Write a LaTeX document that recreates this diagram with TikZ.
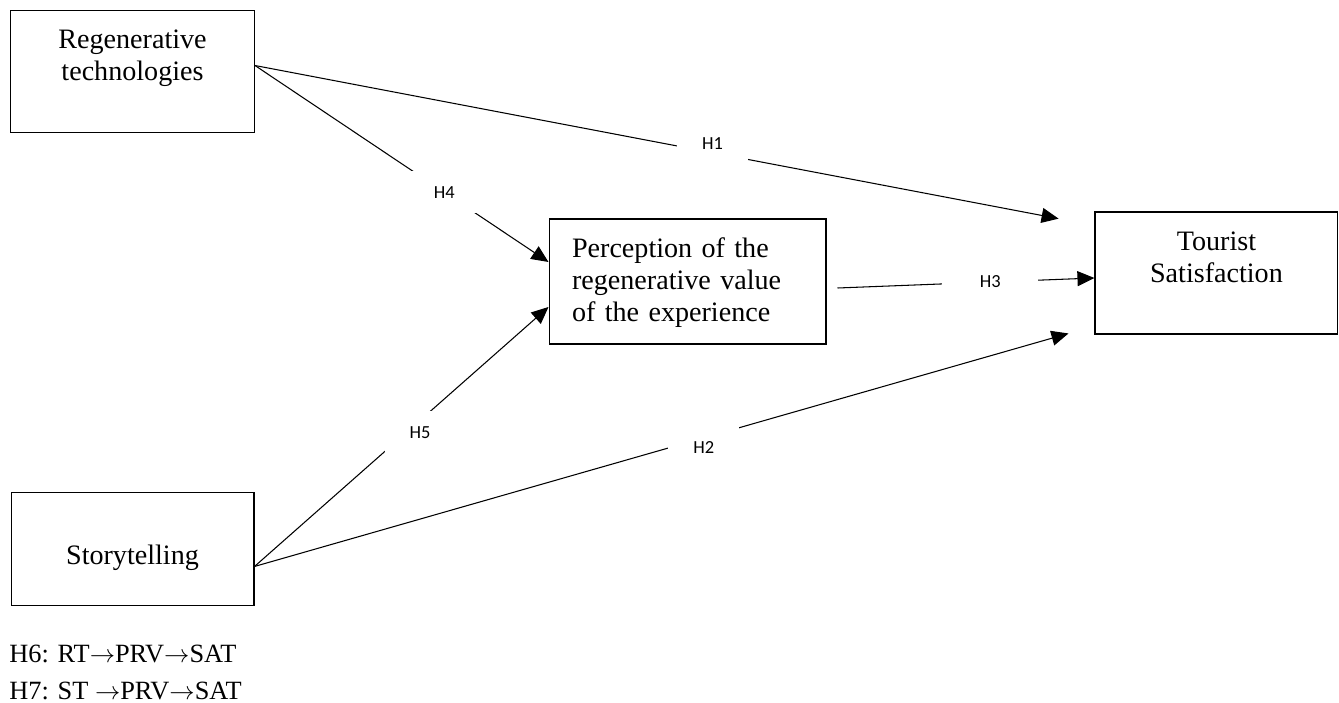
\documentclass[tikz,border=0pt]{standalone}
\usepackage{fontspec}
\setmainfont{Liberation Serif}
\newfontfamily\hypfont{Carlito}
\usetikzlibrary{arrows.meta, positioning}
\newcommand{\toarr}{\ensuremath{\rightarrow}}
\tikzset{
  varbox/.style = {draw, line width=0.6pt, inner sep=0pt, align=center,
                   font=\fontsize{16}{18.3}\selectfont},
  hyp/.style    = {fill=white, inner xsep=0.5cm, inner ysep=0.3cm,
                   font=\hypfont\fontsize{10.5}{12}\selectfont},
  arr/.style    = {-{Triangle[length=0.34cm, width=0.3cm]}, line width=0.6pt},
  note/.style   = {inner sep=0pt, anchor=base west,
                   font=\fontsize{15}{18}\selectfont}
}

\begin{document}
\begin{tikzpicture}[x=0.02cm, y=-0.02cm]
  \useasboundingbox (0,0) rectangle (1339,703);
  \node[varbox, text width=4.88cm, text height=0.76cm, text depth=1.68cm,
        anchor=north west] (rt) at (10,10) {Regenerative\\technologies};
  \node[varbox, text width=4.86cm, text height=1.44cm, text depth=0.82cm,
        below=7.18cm of rt] (st) {Storytelling};
  \node[varbox, align=left, text width=4.62cm, inner xsep=0.46cm,
        text height=0.76cm, text depth=1.74cm]
    (prv) at (687.5,281.5) {Perception of the\\regenerative value\\of the experience};
  \node[varbox, text width=4.86cm, text height=0.76cm, text depth=1.68cm,
        right=5.36cm of prv, yshift=0.17cm] (ts) {Tourist\\Satisfaction};

  \draw[arr, shorten >=0.73cm] ([yshift=0.12cm]rt.east) -- ([yshift=-0.28cm]ts.north west)
    node[hyp, pos=0.545, yshift=0.18cm] (h1) {H1};
  \draw[arr] ([yshift=0.12cm]rt.east) -- ([yshift=0.39cm]prv.west)
    node[hyp, pos=0.645] (h4) {H4};
  \draw[arr] ([yshift=-0.35cm]st.east) -- ([yshift=-0.51cm]prv.west)
    node[hyp, pos=0.563, yshift=-0.24cm] (h5) {H5};
  \draw[arr, shorten >=0.54cm] ([yshift=-0.35cm]st.east) -- ([yshift=0.17cm]ts.south west)
    node[hyp, pos=0.535, yshift=-0.2cm] (h2) {H2};
  \draw[arr] ([shift={(0.22cm,-0.13cm)}]prv.east) -- ([yshift=-0.1cm]ts.west)
    node[hyp, pos=0.595, inner xsep=0.75cm] (h3) {H3};

  \node[note] (h6) at (9,662) {H6: RT\toarr PRV\toarr SAT};
  \node[note] (h7) at (9,699) {H7: ST \toarr PRV\toarr SAT};
\end{tikzpicture}
\end{document}
